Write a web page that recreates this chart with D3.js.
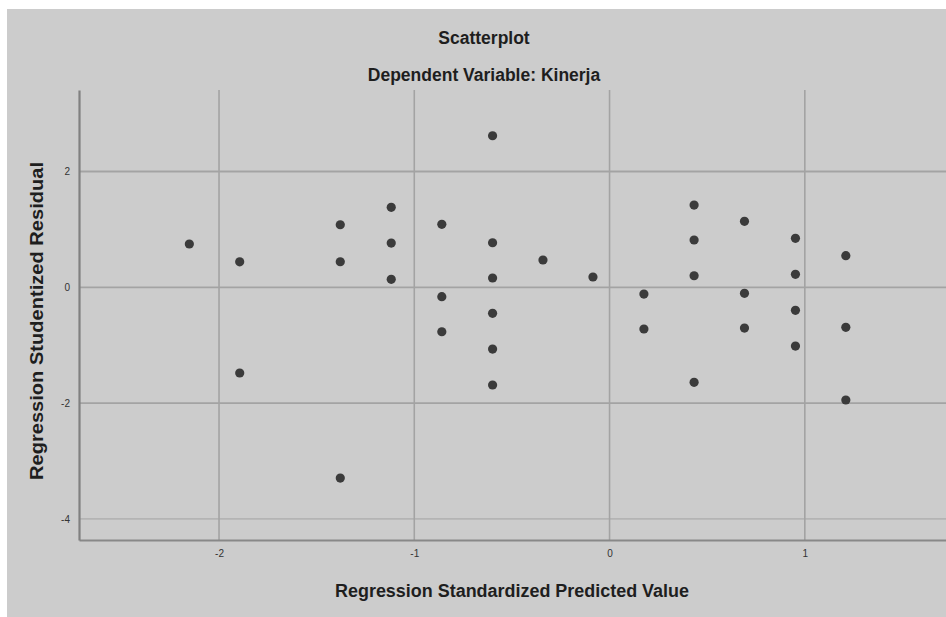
<!DOCTYPE html>
<html>
<head>
<meta charset="utf-8">
<script src="https://cdn.jsdelivr.net/npm/d3@7"></script>
<style>
  body { margin: 0; background: #fff; }
  svg { display: block; font-family: "Liberation Sans", Arial, sans-serif; }
</style>
</head>
<body>
<div id="chart"></div>
<script>
const WIDTH = 946;
const HEIGHT = 617;

// standardized predicted value (x) and studentized residual (y) per case
const predicted = [
  -2.152, -1.894, -1.894,
  -1.379, -1.379, -1.379,
  -1.118, -1.118, -1.118,
  -0.859, -0.859, -0.859,
  -0.599, -0.599, -0.599, -0.599, -0.599, -0.599,
  -0.341, -0.085,
  0.176, 0.176,
  0.433, 0.433, 0.433, 0.433,
  0.691, 0.691, 0.691,
  0.952, 0.952, 0.952, 0.952,
  1.210, 1.210, 1.210
];
const residual = [
  0.748, 0.440, -1.480,
  1.081, 0.442, -3.294,
  1.382, 0.765, 0.138,
  1.088, -0.162, -0.767,
  2.618, 0.770, 0.161, -0.449, -1.066, -1.687,
  0.472, 0.178,
  -0.116, -0.720,
  1.421, 0.817, 0.200, -1.641,
  1.140, -0.104, -0.703,
  0.846, 0.225, -0.397, -1.014,
  0.546, -0.691, -1.946
];
const xTicks = [-2, -1, 0, 1];
const yTicks = [-4, -2, 0, 2];
const xTickLabels = ["-2", "-1", "0", "1"];
const yTickLabels = ["-4", "-2", "0", "2"];

const margin = { top: 90, right: 0, bottom: 77, left: 79 };
const h = HEIGHT - margin.top - margin.bottom;
const w = WIDTH - margin.left - margin.right;

const svg = d3.select("#chart").append("svg").attr("width", WIDTH).attr("height", HEIGHT);

// gray chart area (screenshot leaves a thin white border top/left)
svg.append("rect").attr("x", 7).attr("y", 9).attr("width", WIDTH - 7).attr("height", HEIGHT - 9)
  .attr("fill", "#cccccc");

const x = d3.scaleLinear().domain([-2.717, 1.723]).range([0, w]);
const y = d3.scaleLinear().domain([-4.364, 3.408]).range([h, 0]);

const g = svg.append("g").attr("transform", "translate(" + margin.left + "," + margin.top + ")");

// grid
g.append("g").selectAll("line").data(xTicks).join("line")
  .attr("x1", d => x(d)).attr("x2", d => x(d))
  .attr("y1", 0).attr("y2", h)
  .attr("stroke", "#a3a3a3").attr("stroke-width", 1.6);
g.append("g").selectAll("line").data(yTicks).join("line")
  .attr("x1", 0).attr("x2", w)
  .attr("y1", d => y(d)).attr("y2", d => y(d))
  .attr("stroke", "#a3a3a3").attr("stroke-width", d => d === -4 ? 1 : 1.8);

// axes
const ejeX = d3.axisBottom(x).tickValues(xTicks).tickSize(0).tickPadding(10)
  .tickFormat((d, i) => xTickLabels[i]);
const ejeY = d3.axisLeft(y).tickValues(yTicks).tickSize(0).tickPadding(9)
  .tickFormat((d, i) => yTickLabels[i]);

const gx = g.append("g").attr("transform", "translate(0," + h + ")").call(ejeX);
const gy = g.append("g").call(ejeY);
gx.select(".domain").attr("stroke", "#888").attr("stroke-width", 2.2);
gy.select(".domain").attr("stroke", "#808080").attr("stroke-width", 2.2);
svg.selectAll(".tick text").attr("font-size", 10).attr("fill", "#333")
  .attr("font-family", "'Liberation Sans', Arial, sans-serif");

// points
g.append("g").selectAll("circle").data(predicted).join("circle")
  .attr("cx", d => x(d))
  .attr("cy", (d, i) => y(residual[i]))
  .attr("r", 4.6)
  .attr("fill", "#3b3b3b");

// titles
svg.append("text").attr("x", 484).attr("y", 44).attr("text-anchor", "middle")
  .attr("font-size", 17.5).attr("font-weight", "bold").attr("fill", "#1e1e1e")
  .text("Scatterplot");
svg.append("text").attr("x", 484).attr("y", 81).attr("text-anchor", "middle")
  .attr("font-size", 17.5).attr("font-weight", "bold").attr("fill", "#1e1e1e")
  .text("Dependent Variable: Kinerja");
svg.append("text").attr("x", 512).attr("y", 597).attr("text-anchor", "middle")
  .attr("font-size", 17.5).attr("font-weight", "bold").attr("fill", "#1e1e1e")
  .attr("textLength", 354).attr("lengthAdjust", "spacingAndGlyphs")
  .text("Regression Standardized Predicted Value");
svg.append("text").attr("transform", "translate(43,321) rotate(-90)").attr("text-anchor", "middle")
  .attr("font-size", 17.5).attr("font-weight", "bold").attr("fill", "#1e1e1e")
  .attr("textLength", 318).attr("lengthAdjust", "spacingAndGlyphs")
  .text("Regression Studentized Residual");
</script>
</body>
</html>
